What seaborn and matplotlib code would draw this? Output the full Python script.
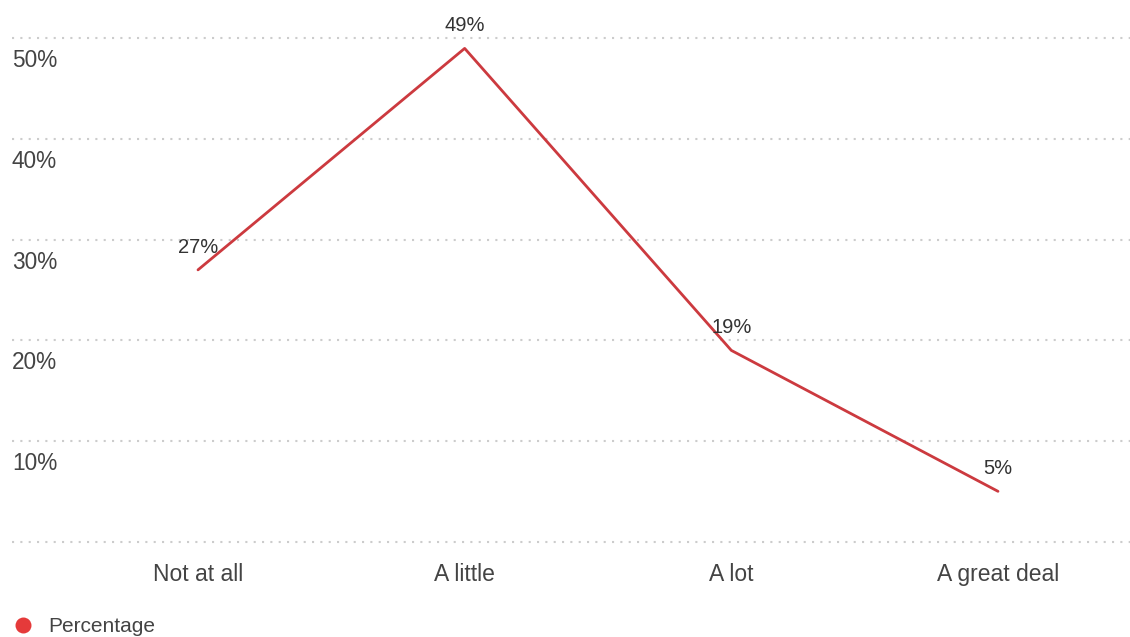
import matplotlib
matplotlib.use("Agg")
import matplotlib.pyplot as plt
import matplotlib.transforms as mtransforms
from matplotlib.lines import Line2D
import seaborn as sns
import pandas as pd

# Survey responses and their shares (percent)
categories = ["Not at all", "A little", "A lot", "A great deal"]
values = [27, 49, 19, 5]
y_ticks = [0, 10, 20, 30, 40, 50]
y_tick_labels = ["", "10%", "20%", "30%", "40%", "50%"]
series_name = "Percentage"

LINE_COLOR = "#cc3a3f"
DOT_COLOR = "#e53a3a"
TEXT_COLOR = "#444444"
LABEL_COLOR = "#333333"

sns.set_theme(style="white")
plt.rcParams["font.family"] = ["Liberation Sans", "DejaVu Sans"]

W, H = 1130, 637
fig = plt.figure(figsize=(W / 100, H / 100), dpi=100)
fig.patch.set_facecolor("white")

# Axes box in pixel terms (top/bottom include half a unit of padding)
left_px, right_px = 12, 1130
top_px, bottom_px = 33.3, 546.7
ax = fig.add_axes([left_px / W, (H - bottom_px) / H,
                   (right_px - left_px) / W, (bottom_px - top_px) / H])

df = pd.DataFrame({"response": categories, "pct": values})
sns.lineplot(data=df, x="response", y="pct", sort=False, color=LINE_COLOR,
             linewidth=2.0, ax=ax, zorder=3)

ax.set_ylim(-0.5, 50.5)
ax.set_xlim(-0.6975, 3.495)
ax.set_xlabel("")
ax.set_ylabel("")
for s in ax.spines.values():
    s.set_visible(False)

# Dotted horizontal gridlines
ax.set_yticks(y_ticks)
ax.set_yticklabels(y_tick_labels)
ax.set_axisbelow(True)
ax.grid(axis="y", color="#cccccc", linewidth=1.5, linestyle=(0, (1, 3)))
ax.grid(axis="x", visible=False)

# Y labels sit inside the plot, just below their gridline
ax.tick_params(axis="y", length=0, pad=0, labelsize=16.3, labelcolor=TEXT_COLOR)
shift = mtransforms.ScaledTranslation(0, -0.29, fig.dpi_scale_trans)
for lab in ax.get_yticklabels():
    lab.set_horizontalalignment("left")
    lab.set_verticalalignment("baseline")
    lab.set_transform(lab.get_transform() + shift)

ax.tick_params(axis="x", length=0, pad=24.7, labelsize=16.5, labelcolor=TEXT_COLOR)
for lab in ax.get_xticklabels():
    lab.set_verticalalignment("baseline")

# Value labels above each point
for i, v in enumerate(values):
    ax.annotate(f"{v}%", xy=(i, v), xytext=(0, 12.2), textcoords="offset points",
                ha="center", va="baseline", fontsize=14.5, color=LABEL_COLOR,
                zorder=4)

# Legend with a round marker
handle = Line2D([], [], marker="o", linestyle="", color=DOT_COLOR,
                markersize=11.5, markeredgewidth=0)
fig.legend(handles=[handle], labels=[series_name], loc="center left",
           bbox_to_anchor=(12.3 / W, (H - 626.5) / H), frameon=False,
           fontsize=15, handlelength=1.0, handletextpad=0.72,
           borderpad=0, borderaxespad=0, labelcolor=TEXT_COLOR)

fig.savefig("out.png", dpi=100, facecolor="white")
